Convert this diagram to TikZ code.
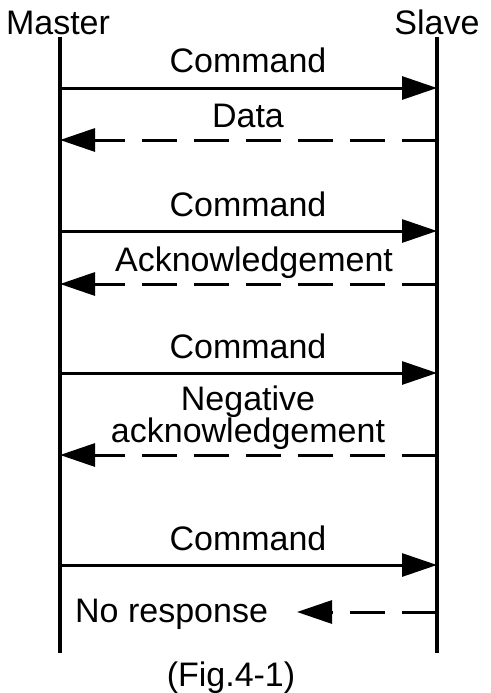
\documentclass[tikz,border=0pt]{standalone}
\usepackage{fontspec}
\setmainfont{Liberation Sans}
\usetikzlibrary{arrows.meta}
\begin{document}
\begin{tikzpicture}[x=1pt,y=-1pt,
  lbl/.style={anchor=base,inner sep=0pt,font=\fontsize{34}{40}\selectfont},
  life/.style={line width=3.2pt},
  req/.style={line width=3pt,-{Triangle[length=35pt,width=23pt]}},
  resp/.style={line width=3pt,dash pattern=on 35pt off 17pt,-{Triangle[length=35pt,width=23pt]}}]
\useasboundingbox (0,0) rectangle (490,693);
% lifelines
\node[lbl] (master) at (58,35) {Master};
\node[lbl] (slave) at (437,35) {Slave};
\coordinate (mt) at (60,37);
\coordinate (mb) at (60,653);
\coordinate (st) at (437,37);
\coordinate (sb) at (437,653);
\draw[life] (mt) -- (mb);
\draw[life] (st) -- (sb);
% arrow end points
\foreach \n/\y in {c1/88,d1/140,c2/231,a2/284,c3/373,n3/455,c4/565} {
  \coordinate (m\n) at (60,\y);
  \coordinate (s\n) at (437,\y);
}
\coordinate (nrend) at (297,612);
\coordinate (nrstart) at (437,612);
% messages
\node[lbl] (t1) at (248,73) {Command};
\draw[req] (mc1) -- (sc1);
\node[lbl] (t2) at (248,127) {Data};
\draw[resp] (sd1) -- (md1);
\node[lbl] (t3) at (248,216) {Command};
\draw[req] (mc2) -- (sc2);
\node[lbl] (t4) at (254,271) {Acknowledgement};
\draw[resp] (sa2) -- (ma2);
\node[lbl] (t5) at (248,358) {Command};
\draw[req] (mc3) -- (sc3);
\node[lbl] (t6a) at (248,410) {Negative};
\node[lbl] (t6b) at (248,442) {acknowledgement};
\draw[resp] (sn3) -- (mn3);
\node[lbl] (t7) at (248,550) {Command};
\draw[req] (mc4) -- (sc4);
\node[lbl,anchor=base west] (t8) at (75,622) {No response};
\draw[resp] (nrstart) -- (nrend);
\node[lbl] (fig) at (231,686) {(Fig.4-1)};
\end{tikzpicture}
\end{document}
